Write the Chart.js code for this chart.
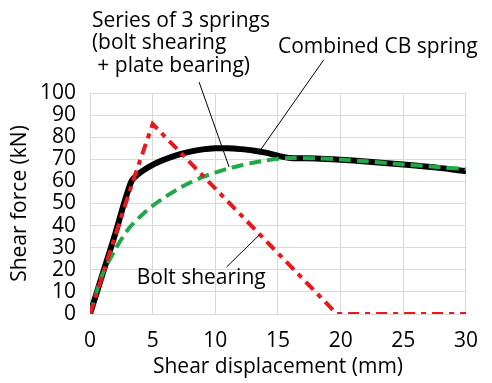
<!DOCTYPE html>
<html>
<head>
<meta charset="utf-8">
<script src="https://cdn.jsdelivr.net/npm/chart.js@4"></script>
<style>
    html, body { margin: 0; padding: 0; background: #fff; }
    #wrap { width: 492px; height: 383px; }
</style>
</head>
<body>
<div id="wrap"><canvas id="chart" width="492" height="383"></canvas></div>
<script>
// Shear force vs shear displacement

// Combined CB spring (black)
const combinedDisp  = [0, 1, 2, 3.3, 4, 5, 6, 7, 8, 9, 10, 11, 12, 13, 14, 15, 16, 18, 20, 22, 25, 28, 30];
const combinedForce = [0, 18, 36, 60, 64, 67.5, 70, 72, 73.5, 74.5, 75, 75, 74.6, 74, 73, 71.6, 70.6, 70.4, 69.8, 69, 67.6, 66, 64.6];

// Series of 3 springs (green)
const seriesDisp  = [0, 1, 2, 3, 4, 5, 6, 7, 8, 9, 10, 11, 12, 13, 14, 15, 16, 18, 20, 22, 25, 28, 30];
const seriesForce = [0, 18, 29, 38, 44, 49, 53, 56.5, 59.5, 62, 64, 65.8, 67.2, 68.4, 69.4, 70.2, 70.6, 70.5, 69.9, 69.1, 67.7, 66.4, 65.6];

// Bolt shearing (red)
const boltDisp  = [0, 3.3, 5, 19.7, 30];
const boltForce = [0, 58, 86, 0, 0];

// Axes
const xTicks = [0, 5, 10, 15, 20, 25, 30];
const yTicks = [0, 10, 20, 30, 40, 50, 60, 70, 80, 90, 100];

const FONT = '"Open Sans", "Noto Sans", sans-serif';

function toPoints(xs, ys) {
    return xs.map((x, i) => ({ x: x, y: ys[i] }));
}

// Annotazioni (testi e linee guida, in coordinate dati)
const labels = [
    { lines: ['Series of 3 springs', '(bolt shearing', ' + plate bearing)'], x: 0.15, y: 130, step: 10.2 },
    { lines: ['Combined CB spring'], x: 15.0, y: 118, step: 0 },
    { lines: ['Bolt shearing'], x: 3.73, y: 13.6, step: 0 }
];
const leaders = [
    [8.7, 105, 11.1, 66.5],
    [18.65, 115, 13.6, 74.2],
    [10.9, 21.3, 13.5, 35.7]
];

const annotationPlugin = {
    id: 'annotations',
    afterDraw(chart) {
        const { ctx, scales: { x, y } } = chart;
        ctx.save();
        ctx.strokeStyle = '#000';
        ctx.lineWidth = 1;
        leaders.forEach(([x1, y1, x2, y2]) => {
            ctx.beginPath();
            ctx.moveTo(x.getPixelForValue(x1), y.getPixelForValue(y1));
            ctx.lineTo(x.getPixelForValue(x2), y.getPixelForValue(y2));
            ctx.stroke();
        });
        ctx.fillStyle = '#000';
        ctx.font = '21px ' + FONT;
        ctx.textAlign = 'left';
        ctx.textBaseline = 'alphabetic';
        labels.forEach(l => {
            l.lines.forEach((t, i) => {
                ctx.fillText(t, x.getPixelForValue(l.x), y.getPixelForValue(l.y - i * l.step));
            });
        });
        ctx.restore();
    }
};

const ctx = document.getElementById('chart').getContext('2d');
new Chart(ctx, {
    type: 'line',
    data: {
        datasets: [
            {
                label: 'Bolt shearing',
                data: toPoints(boltDisp, boltForce),
                borderColor: '#e8191c',
                borderWidth: 4,
                borderDash: [11, 6, 5, 6],
                pointRadius: 0,
                fill: false,
                order: 1
            },
            {
                label: 'Series of 3 springs',
                data: toPoints(seriesDisp, seriesForce),
                borderColor: '#20a84a',
                borderWidth: 4,
                borderDash: [12, 6],
                pointRadius: 0,
                tension: 0.3,
                fill: false,
                order: 2
            },
            {
                label: 'Combined CB spring',
                data: toPoints(combinedDisp, combinedForce),
                borderColor: '#000',
                borderWidth: 6,
                pointRadius: 0,
                tension: 0.3,
                fill: false,
                order: 3
            }
        ]
    },
    options: {
        responsive: false,
        animation: false,
        devicePixelRatio: 1,
        layout: { padding: { left: 0, top: 93, right: 24, bottom: 0 } },
        plugins: {
            legend: { display: false },
            tooltip: { enabled: false }
        },
        scales: {
            x: {
                type: 'linear',
                min: 0,
                max: 30,
                afterFit: s => { s.height = 69; },
                afterBuildTicks: s => { s.ticks = xTicks.map(v => ({ value: v })); },
                grid: { color: '#d9d9d9', lineWidth: 1, drawTicks: false },
                border: { color: '#d9d9d9' },
                ticks: { color: '#000', padding: 14, autoSkip: false, maxRotation: 0, font: { family: FONT, size: 21 } },
                title: {
                    display: true,
                    text: 'Shear displacement (mm)',
                    color: '#000',
                    font: { family: FONT, size: 21 },
                    padding: { top: 0, bottom: 3 }
                }
            },
            y: {
                min: 0,
                max: 100,
                afterFit: s => { s.width = 90; },
                afterBuildTicks: s => { s.ticks = yTicks.map(v => ({ value: v })); },
                grid: { color: '#d9d9d9', lineWidth: 1, drawTicks: false },
                border: { color: '#d9d9d9' },
                ticks: { color: '#000', padding: 14, autoSkip: false, font: { family: FONT, size: 21 } },
                title: {
                    display: true,
                    text: 'Shear force (kN)',
                    color: '#000',
                    font: { family: FONT, size: 21 },
                    padding: { top: 7, bottom: 0 }
                }
            }
        }
    },
    plugins: [annotationPlugin]
});
</script>
</body>
</html>
